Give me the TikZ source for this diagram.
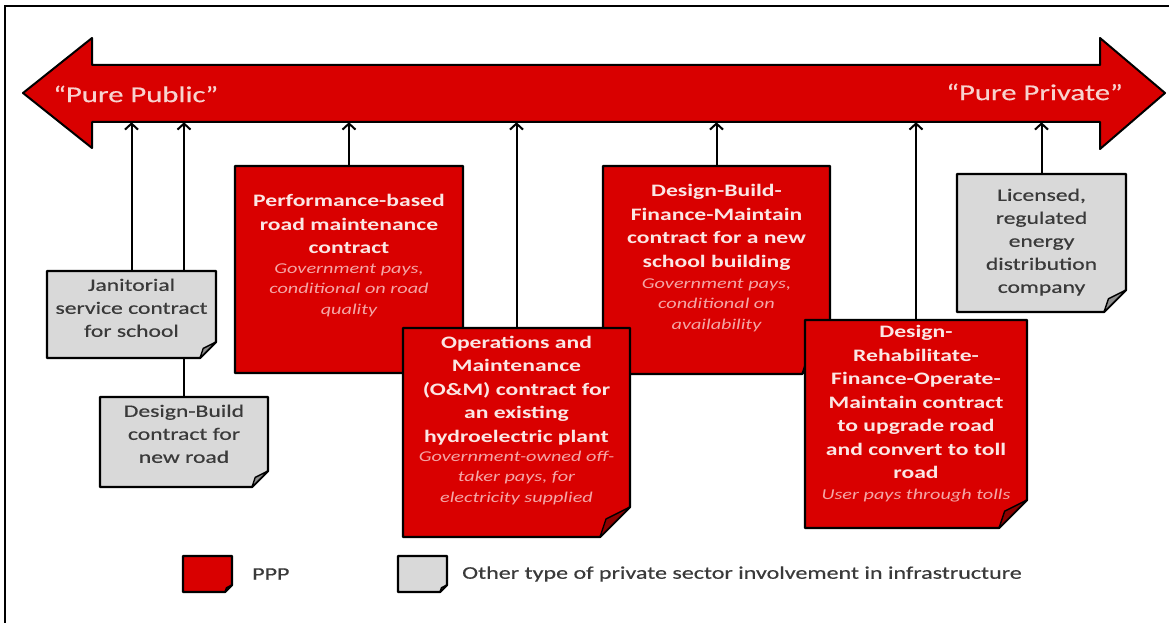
\documentclass[tikz,border=0pt]{standalone}
\usepackage{fontspec}
\setmainfont{Carlito}[FakeStretch=1.35]
\newfontfamily\heavyfont{Carlito}[FakeStretch=1.35, FakeBold=0.5]
\usetikzlibrary{arrows.meta,backgrounds}
\definecolor{pppred}{HTML}{D90000}
\definecolor{othergray}{HTML}{D9D9D9}
\definecolor{graytext}{HTML}{3A3A3A}
\definecolor{titlecol}{HTML}{FBE6E4}
\definecolor{subcol}{HTML}{F4A6A6}
\definecolor{axislabel}{HTML}{F8D3CF}
\tikzset{
  notebox/.style 2 args={draw=none, inner sep=0pt, outer sep=0pt,
    append after command={\pgfextra{
      \path[fill=#1, draw=black, line width=2.2pt, line join=round]
        (\tikzlastnode.north west) -- (\tikzlastnode.north east)
        -- ([yshift=#2]\tikzlastnode.south east)
        -- ([xshift=-#2]\tikzlastnode.south east)
        -- (\tikzlastnode.south west) -- cycle;
      \path[fill=#1!65!black, draw=black, line width=1.4pt, line join=round]
        ([yshift=#2]\tikzlastnode.south east)
        -- ([xshift={-0.8*#2}, yshift={0.6*#2}]\tikzlastnode.south east)
        -- ([xshift=-#2]\tikzlastnode.south east) -- cycle;
    }}},
  title/.style={font=\fontsize{17.5}{23.5}\selectfont\bfseries, text=titlecol,
    align=center, inner sep=0pt, anchor=north},
  sub/.style={font=\fontsize{15}{20.5}\selectfont\itshape, text=subcol,
    align=center, inner sep=0pt, anchor=north},
  graylabel/.style={font=\heavyfont\fontsize{17.5}{23}\selectfont, text=graytext,
    align=center, inner sep=0pt, anchor=north},
  axislab/.style={font=\heavyfont\fontsize{22.7}{26}\selectfont, text=axislabel, inner sep=0pt},
  legtext/.style={font=\heavyfont\fontsize{17.8}{20}\selectfont, text=graytext, inner sep=0pt, anchor=west},
  conn/.style={draw=black, line width=2pt, -{Straight Barb[length=6pt,width=13pt]}}
}
\begin{document}
\begin{tikzpicture}[x=1pt,y=-1pt]
\useasboundingbox (0,0) rectangle (1169,623);
% frame
\draw[line width=2pt] (5,6) rectangle (1180,640);
% big double arrow
\path[fill=pppred, draw=black, line width=2pt, line join=round]
  (23,93) -- (92,38) -- (92,65) -- (1100,65) -- (1100,38) -- (1165,93)
  -- (1100,149) -- (1100,122) -- (92,122) -- (92,148) -- cycle;
\node[draw=none, inner sep=0pt, minimum width=1008, minimum height=57] (axis) at (596,93.5) {};
\node[axislab, anchor=west] (pub) at (53,94) {“Pure Public”};
\node[axislab, anchor=east] (priv) at (1123,92) {“Pure Private”};

% boxes (order matters for overlaps)
\node[notebox={othergray}{16}, minimum width=168, minimum height=90] (db) at (184,442) {};
\node[notebox={othergray}{16}, minimum width=169, minimum height=87] (jan) at (131.5,314.5) {};
\node[notebox={pppred}{28}, minimum width=228, minimum height=207] (perf) at (349,269.5) {};
\node[notebox={pppred}{28}, minimum width=227, minimum height=208] (dbfm) at (716.5,270) {};
\node[notebox={pppred}{30}, minimum width=227, minimum height=209] (om) at (516.5,432.5) {};
\node[notebox={pppred}{28}, minimum width=222, minimum height=208] (drfom) at (916,424) {};
\node[notebox={othergray}{22}, minimum width=169, minimum height=138] (lic) at (1041.5,243) {};

% texts
\node[graylabel] (jan-t) at (131.5,278.5) {Janitorial\\service contract\\for school};
\node[graylabel] (db-t) at (184,404.5) {Design-Build\\contract for\\new road};
\node[title] (perf-t) at (349,194.5) {Performance-based\\road maintenance\\contract};
\node[sub] (perf-s) at (349,263.5) {Government pays,\\conditional on road\\quality};
\node[title] (om-t) at (516.5,335.5) {Operations and\\Maintenance\\(O\&M) contract for\\an existing\\hydroelectric plant};
\node[sub] (om-s) at (516.5,450.5) {Government-owned off-\\taker pays, for\\electricity supplied};
\node[title] (dbfm-t) at (716.5,184.5) {Design-Build-\\Finance-Maintain\\contract for a new\\school building};
\node[sub] (dbfm-s) at (716.5,278.5) {Government pays,\\conditional on\\availability};
\node[title] (drfom-t) at (916,325.5) {Design-\\Rehabilitate-\\Finance-Operate-\\Maintain contract\\to upgrade road\\and convert to toll\\road};
\node[sub] (drfom-s) at (916,488.5) {User pays through tolls};
\node[graylabel] (lic-t) at (1041.5,188.5) {Licensed,\\regulated\\energy\\distribution\\company};

% connectors
\begin{scope}[on background layer]
\draw[conn] (jan.north) -- (jan.north |- axis.south);
\draw[conn] (db.north) -- (db.north |- axis.south);
\draw[conn] (perf.north) -- (perf.north |- axis.south);
\draw[conn] (om.north) -- (om.north |- axis.south);
\draw[conn] (dbfm.north) -- (dbfm.north |- axis.south);
\draw[conn] (drfom.north) -- (drfom.north |- axis.south);
\draw[conn] (lic.north) -- (lic.north |- axis.south);
\end{scope}

% legend
\node[notebox={pppred}{7}, minimum width=49, minimum height=36] (leg-ppp) at (207.5,574) {};
\node[legtext] (leg-ppp-t) at (252,574) {PPP};
\node[notebox={othergray}{7}, minimum width=49, minimum height=36] (leg-oth) at (422.5,574) {};
\node[legtext] (leg-oth-t) at (462,574) {Other type of private sector involvement in infrastructure};
\end{tikzpicture}
\end{document}
